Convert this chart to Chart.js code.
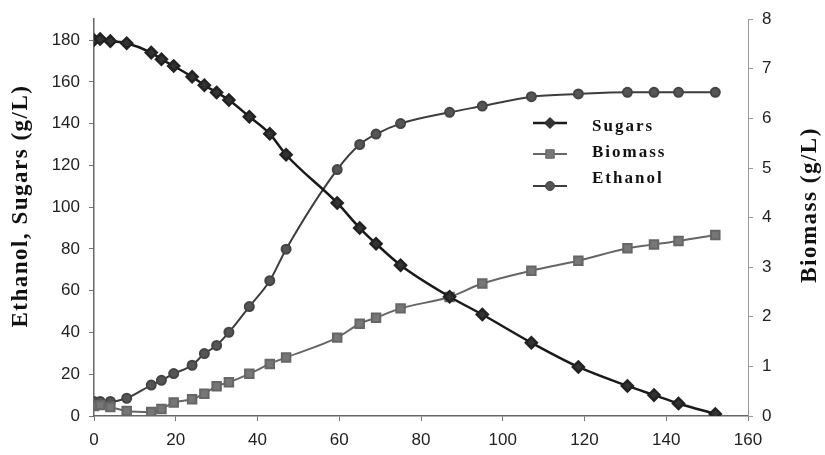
<!DOCTYPE html>
<html>
<head>
<meta charset="utf-8">
<script src="https://cdn.jsdelivr.net/npm/chart.js@4"></script>
<style>
  html, body { margin: 0; padding: 0; background: #fff; }
  #wrap { width: 825px; height: 455px; position: relative; }
</style>
</head>
<body>
<div id="wrap"><canvas id="myChart"></canvas></div>
<script>
// time (h)
const times = [0, 1.5, 4, 8, 14, 16.5, 19.5, 24, 27, 30, 33, 38, 43, 47, 59.5, 65, 69, 75, 87, 95, 107, 118.5, 130.5, 137, 143, 152];
const sugars = [180, 180.5, 179.5, 178.5, 174, 170.8, 167.6, 162.4, 158.4, 154.9, 151.3, 143.3, 135.1, 125.1, 102, 90, 82.5, 72.2, 57.1, 48.6, 35.1, 23.5, 14.4, 10, 6, 1];
const ethanol = [7, 7, 7, 8.5, 14.8, 17.1, 20.3, 24.3, 29.9, 33.8, 40.1, 52.4, 64.8, 79.9, 118, 130, 135, 140, 145.4, 148.4, 152.9, 154.2, 155, 155, 155, 155];
const biomass = [0.2, 0.22, 0.18, 0.1, 0.08, 0.14, 0.27, 0.34, 0.45, 0.6, 0.68, 0.85, 1.05, 1.18, 1.58, 1.86, 1.98, 2.17, 2.4, 2.67, 2.93, 3.13, 3.38, 3.46, 3.53, 3.65];

const leftTitle = 'Ethanol, Sugars (g/L)';
const rightTitle = 'Biomass (g/L)';
const seriesNames = ['Sugars', 'Biomass', 'Ethanol'];

const toPoints = vals => vals.map((v, i) => ({ x: times[i], y: v }));

const tickFont = { family: 'Liberation Sans', size: 17 };
const titleFont = 'bold 23px "Liberation Serif"';

// axis titles and legend drawn on the canvas
const extras = {
    id: 'extras',
    afterDraw(chart) {
        const ctx = chart.ctx;
        ctx.save();
        ctx.fillStyle = '#111';
        ctx.font = titleFont;
        ctx.textAlign = 'center';
        ctx.textBaseline = 'middle';
        ctx.letterSpacing = '1.5px';
        ctx.translate(21, 206);
        ctx.rotate(-Math.PI / 2);
        ctx.fillText(leftTitle, 0, 0);
        ctx.setTransform(1, 0, 0, 1, 0, 0);
        ctx.translate(810, 205);
        ctx.rotate(-Math.PI / 2);
        ctx.fillText(rightTitle, 0, 0);
        ctx.setTransform(1, 0, 0, 1, 0, 0);

        // legend
        const markY = [123, 154, 186];
        const textY = [127, 153, 179];
        ctx.font = 'bold 17px "Liberation Serif"';
        ctx.letterSpacing = '2px';
        ctx.textAlign = 'left';
        chart.data.datasets.forEach((ds, i) => {
            ctx.strokeStyle = ds.borderColor;
            ctx.lineWidth = ds.borderWidth;
            ctx.beginPath();
            ctx.moveTo(533, markY[i]);
            ctx.lineTo(567, markY[i]);
            ctx.stroke();
            ctx.fillStyle = ds.pointBackgroundColor;
            ctx.strokeStyle = ds.pointBorderColor;
            ctx.lineWidth = 1;
            Chart.helpers.drawPoint(ctx, {
                pointStyle: ds.pointStyle,
                radius: ds.pointRadius,
                borderWidth: 1,
                rotation: 0
            }, 550, markY[i]);
            ctx.fillStyle = '#111';
            ctx.fillText(seriesNames[i], 592, textY[i]);
        });
        ctx.restore();
    }
};

const ctx = document.getElementById('myChart').getContext('2d');
new Chart(ctx, {
    type: 'line',
    data: {
        datasets: [
            {
                label: seriesNames[0],
                data: toPoints(sugars),
                yAxisID: 'y',
                borderColor: '#1a1a1a',
                borderWidth: 2.5,
                pointStyle: 'rectRot',
                pointRadius: 5.5,
                pointBackgroundColor: '#333',
                pointBorderColor: '#222',
                cubicInterpolationMode: 'monotone'
            },
            {
                label: seriesNames[1],
                data: toPoints(biomass),
                yAxisID: 'y1',
                borderColor: '#666',
                borderWidth: 2,
                pointStyle: 'rect',
                pointRadius: 6,
                pointBackgroundColor: '#777',
                pointBorderColor: '#666',
                cubicInterpolationMode: 'monotone'
            },
            {
                label: seriesNames[2],
                data: toPoints(ethanol),
                yAxisID: 'y',
                borderColor: '#3d3d3d',
                borderWidth: 2,
                pointStyle: 'circle',
                pointRadius: 4.5,
                pointBackgroundColor: '#555',
                pointBorderColor: '#444',
                cubicInterpolationMode: 'monotone'
            }
        ]
    },
    options: {
        animation: false,
        responsive: true,
        maintainAspectRatio: false,
        layout: { padding: { top: 15, left: 0, right: 0, bottom: 0 } },
        scales: {
            x: {
                type: 'linear',
                min: 0,
                max: 160,
                ticks: { stepSize: 20, font: tickFont, color: '#222', padding: 9, maxRotation: 0 },
                grid: { drawOnChartArea: false, tickLength: 5, color: '#777' },
                border: { color: '#666', width: 1.5 },
                afterFit: s => { s.height = 39; }
            },
            y: {
                position: 'left',
                min: 0,
                max: 190,
                ticks: { stepSize: 20, includeBounds: false, font: tickFont, color: '#222', padding: 9 },
                grid: { drawOnChartArea: false, tickLength: 5, color: '#777' },
                border: { color: '#666', width: 1.5 },
                afterFit: s => { s.width = 94; }
            },
            y1: {
                position: 'right',
                min: 0,
                max: 8,
                ticks: { stepSize: 1, font: tickFont, color: '#222', padding: 9 },
                grid: { drawOnChartArea: false, tickLength: 5, color: '#999' },
                border: { color: '#999', width: 1 },
                afterFit: s => { s.width = 77; }
            }
        },
        plugins: {
            legend: { display: false },
            tooltip: { enabled: false }
        }
    },
    plugins: [extras]
});
</script>
</body>
</html>
